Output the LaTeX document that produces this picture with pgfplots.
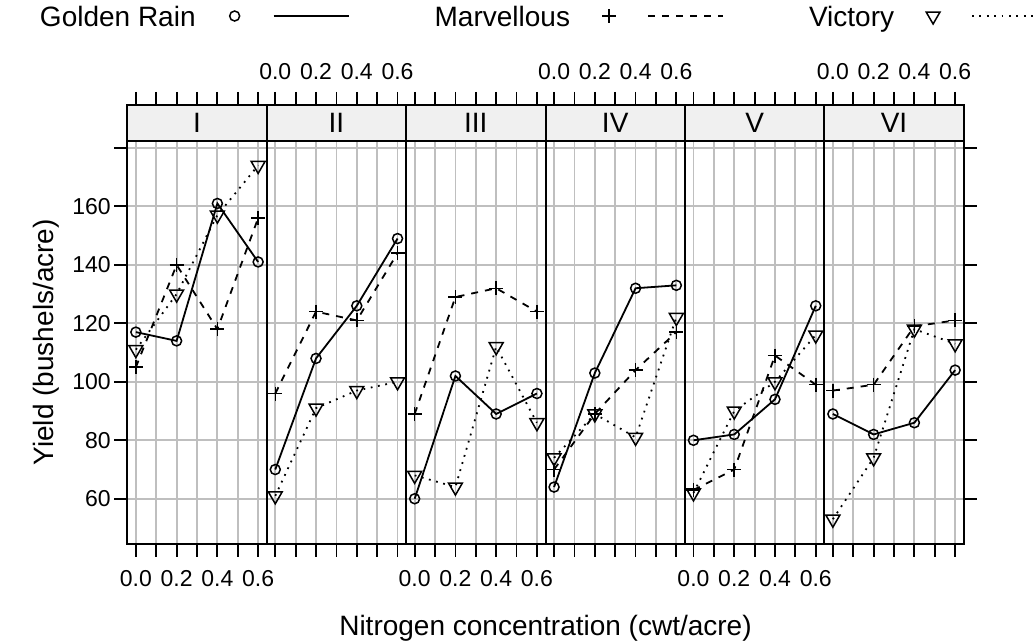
\documentclass[border=0pt]{standalone}
\usepackage{fontspec}
\setmainfont{Liberation Sans}
\usepackage{pgfplots}
\pgfplotsset{compat=1.18}
\definecolor{stripgray}{gray}{0.94}
\definecolor{gridgray}{gray}{0.75}
\newcommand\bigfont{\fontsize{28}{33}\selectfont}
\newcommand\tickfont{\fontsize{23}{27}\selectfont}
\pgfplotsset{
  panel/.style={
    scale only axis, width=139.4pt, height=439pt,
    anchor=south west,
    xmin=-0.042, xmax=0.642, ymin=44.53, ymax=194.68,
    xtick={0,0.1,0.2,0.3,0.4,0.5,0.6},
    xticklabels={0.0,,0.2,,0.4,,0.6},
    ytick={60,80,100,120,140,160,180},
    grid=major, major grid style={gridgray, line width=1.8pt},
    tick align=outside, major tick length=13pt,
    tick style={black, line width=1.8pt},
    axis line style={black, line width=2pt},
    clip=false,
    tick label style={font=\tickfont},
    legend image code/.code={%
      \draw[##1,mark=none] (78pt,0pt) -- (153pt,0pt);
      \draw[##1] plot coordinates {(39pt,0pt)};
      \path[draw=none] (0pt,0pt) -- (239pt,0pt);},
  },
  gr/.style={black, solid, line width=1.8pt, mark=o, mark size=5pt, mark options={solid, line width=1.5pt}},
  mv/.style={black, dash pattern=on 7pt off 7pt, line width=1.8pt, mark=+, mark size=7pt, mark options={solid, line width=1.5pt}},
  vi/.style={black, dash pattern=on 1.8pt off 5.6pt, line width=1.8pt, mark=triangle, mark size=8pt, mark options={solid, rotate=180, line width=1.5pt}},
  lowlab/.style={xticklabel pos=lower, xtick pos=both, x tick label style={yshift=-10pt}},
  uplab/.style={xticklabel pos=upper, xtick pos=both, x tick label style={yshift=8.5pt}},
  midy/.style={ytick pos=left, yticklabels={}, y tick style={draw=none}},
}
\newcommand\strip[1]{%
  \filldraw[fill=stripgray, draw=black, line width=2pt] (axis cs:-0.042,182.47) rectangle (axis cs:0.642,194.68);
  \node[font=\bigfont, inner sep=0pt] at (axis cs:0.3,188.575) {#1};}
\begin{document}
\begin{tikzpicture}
\useasboundingbox (0,0) rectangle (1035pt,644pt);
% Panel I
\begin{axis}[panel, lowlab, at={(127.3pt,100pt)},
  ytick pos=left, yticklabels={60,80,100,120,140,160,{}},
  legend columns=3, legend plot pos=right, legend cell align=left,
  legend style={at={(axis description cs:-0.6263,1.2027)}, anchor=west, draw=none, fill=none,
    inner sep=0pt, outer sep=0pt, column sep=0pt, font=\bigfont,
    nodes={inner sep=0pt, text height=20pt, text depth=0pt}}]
\addplot[gr] coordinates {(0,117) (0.2,114) (0.4,161) (0.6,141)};
\addlegendentry{Golden Rain}
\addplot[mv] coordinates {(0,105) (0.2,140) (0.4,118) (0.6,156)};
\addlegendentry{Marvellous}
\addplot[vi] coordinates {(0,111) (0.2,130) (0.4,157) (0.6,174)};
\addlegendentry{Victory}
\strip{I}
\end{axis}
% Panel II
\begin{axis}[panel, uplab, midy, at={(266.7pt,100pt)}]
\addplot[gr] coordinates {(0,70) (0.2,108) (0.4,126) (0.6,149)};
\addplot[mv] coordinates {(0,96) (0.2,124) (0.4,121) (0.6,144)};
\addplot[vi] coordinates {(0,61) (0.2,91) (0.4,97) (0.6,100)};
\strip{II}
\end{axis}
% Panel III
\begin{axis}[panel, lowlab, midy, at={(406.1pt,100pt)}]
\addplot[gr] coordinates {(0,60) (0.2,102) (0.4,89) (0.6,96)};
\addplot[mv] coordinates {(0,89) (0.2,129) (0.4,132) (0.6,124)};
\addplot[vi] coordinates {(0,68) (0.2,64) (0.4,112) (0.6,86)};
\strip{III}
\end{axis}
% Panel IV
\begin{axis}[panel, uplab, midy, at={(545.5pt,100pt)}]
\addplot[gr] coordinates {(0,64) (0.2,103) (0.4,132) (0.6,133)};
\addplot[mv] coordinates {(0,70) (0.2,89) (0.4,104) (0.6,117)};
\addplot[vi] coordinates {(0,74) (0.2,89) (0.4,81) (0.6,122)};
\strip{IV}
\end{axis}
% Panel V
\begin{axis}[panel, lowlab, midy, at={(684.9pt,100pt)}]
\addplot[gr] coordinates {(0,80) (0.2,82) (0.4,94) (0.6,126)};
\addplot[mv] coordinates {(0,63) (0.2,70) (0.4,109) (0.6,99)};
\addplot[vi] coordinates {(0,62) (0.2,90) (0.4,100) (0.6,116)};
\strip{V}
\end{axis}
% Panel VI
\begin{axis}[panel, uplab, at={(824.3pt,100pt)}, ytick pos=right, yticklabels={}]
\addplot[gr] coordinates {(0,89) (0.2,82) (0.4,86) (0.6,104)};
\addplot[mv] coordinates {(0,97) (0.2,99) (0.4,119) (0.6,121)};
\addplot[vi] coordinates {(0,53) (0.2,74) (0.4,118) (0.6,113)};
\strip{VI}
\end{axis}
\node[rotate=90, anchor=base, font=\bigfont] at (53pt,301.65pt) {Yield (bushels/acre)};
\node[anchor=base, font=\bigfont] at (545.5pt,8pt) {Nitrogen concentration (cwt/acre)};
\end{tikzpicture}
\end{document}
